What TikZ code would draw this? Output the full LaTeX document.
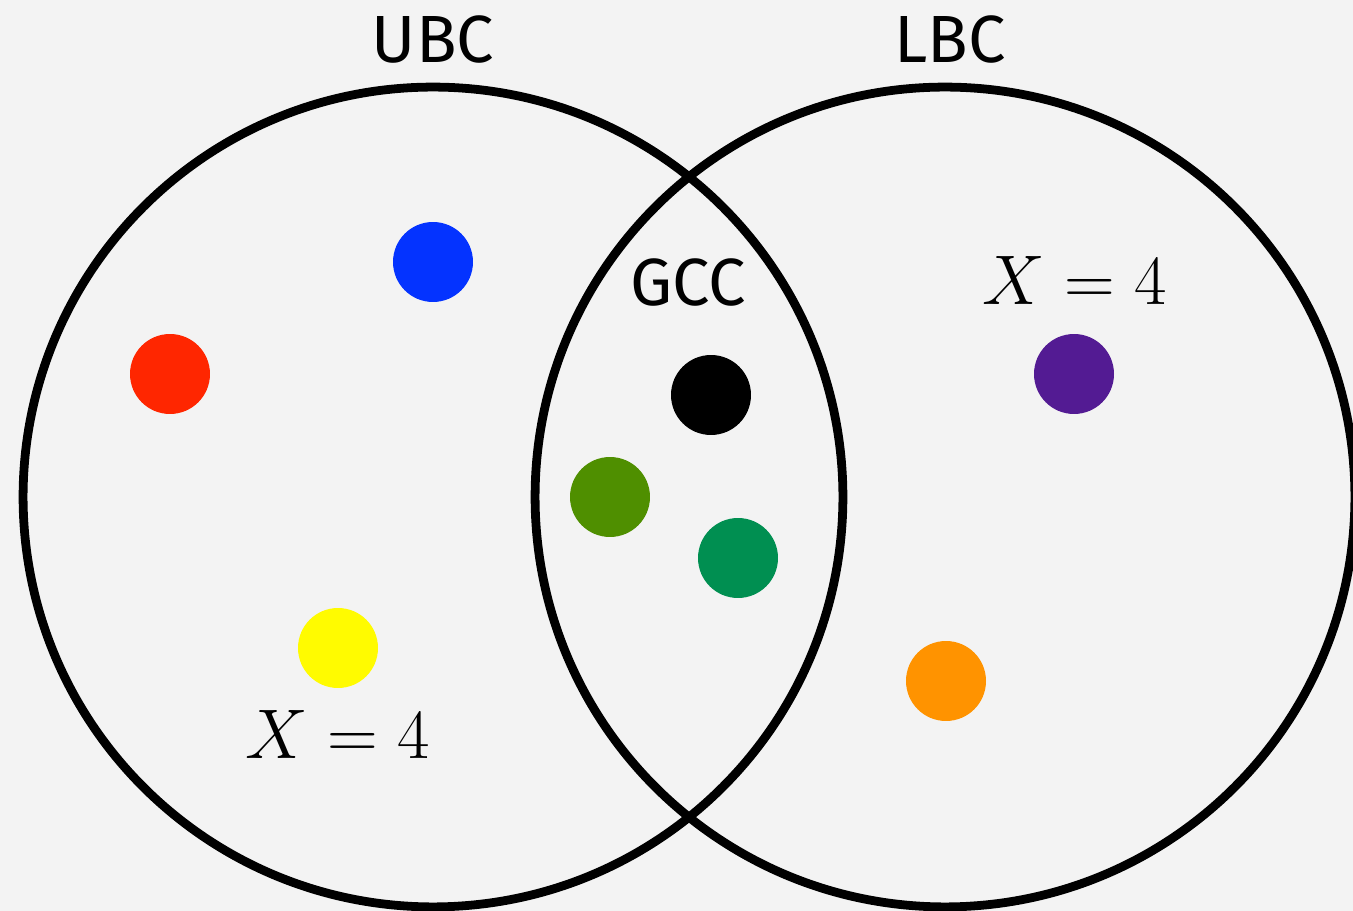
\RequirePackage{fix-cm}
\documentclass[tikz,border=0pt]{standalone}
\usepackage{fontspec}
\newfontfamily\handfont{Fira Sans}
\definecolor{paper}{HTML}{F3F3F3}
\definecolor{blueberry}{HTML}{0433FF}
\definecolor{cherry}{HTML}{FF2600}
\definecolor{lemon}{HTML}{FFFB00}
\definecolor{clover}{HTML}{4F8F00}
\definecolor{moss}{HTML}{008F51}
\definecolor{grape}{HTML}{531B93}
\definecolor{tangerine}{HTML}{FF9300}
\tikzset{
  setring/.style={draw,line width=5pt,circle,minimum size=16.4cm,inner sep=0pt},
  dot/.style={circle,fill=#1,minimum size=1.6cm,inner sep=0pt},
  setname/.style={font=\handfont\fontsize{38}{38}\selectfont},
  val/.style={font=\fontsize{40}{40}\selectfont}
}
\begin{document}
\begin{tikzpicture}[x=0.02cm,y=-0.02cm]
\fill[paper] (0,0) rectangle (1353,911);
\useasboundingbox (0,0) rectangle (1353,911);
\node[setring] (ubc) at (433,497) {};
\node[setring] (lbc) at (945,497) {};
\node[setname] (ubclab) at (433,40) {UBC};
\node[setname] (lbclab) at (950,40) {LBC};
\node[setname] (gcclab) at (688,283) {GCC};
\node[val] (xl) at (338,734) {$X=4$};
\node[val] (xr) at (1075,280) {$X=4$};
% points
\foreach \n/\c/\x/\y in {b/blueberry/433/262, r/cherry/170/374, y/lemon/338/648,
  k/black/711/395, g/clover/610/497, m/moss/738/558, p/grape/1074/374, o/tangerine/946/681}
  \node[dot=\c] (\n) at (\x,\y) {};
\end{tikzpicture}
\end{document}
